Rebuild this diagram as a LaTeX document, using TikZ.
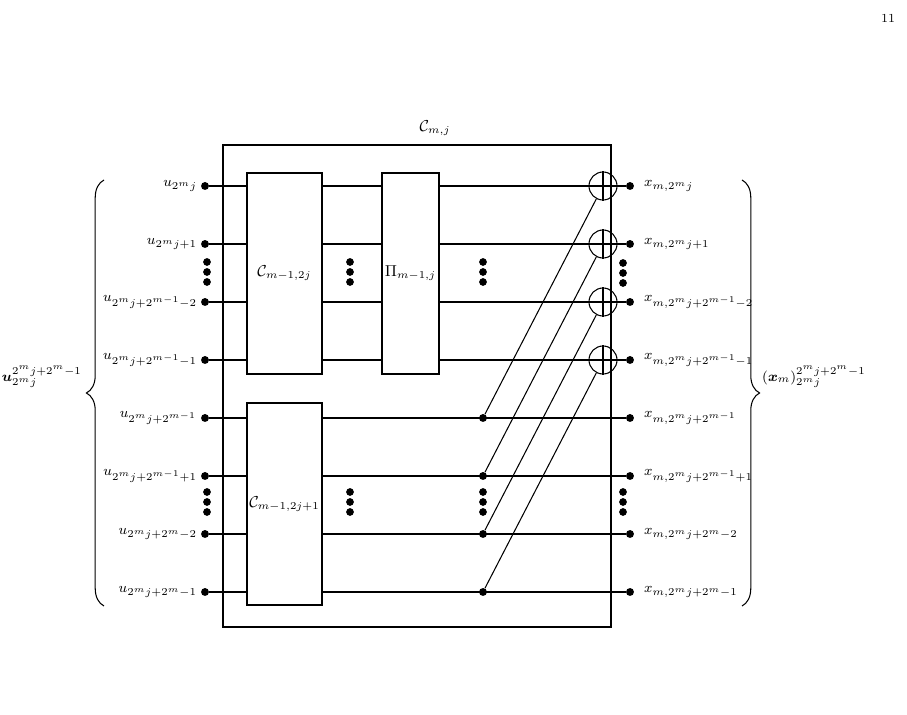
\documentclass[tikz,border=0pt]{standalone}
\usepackage{amsmath}
\usepackage{bm}
\usetikzlibrary{decorations.pathreplacing}
\newcommand{\sig}[2]{$#1_{#2}$}
\begin{document}
\begin{tikzpicture}[x=0.02cm, y=-0.02cm, every node/.style={font=\footnotesize},
    dot/.style={circle, fill=black, inner sep=0pt, minimum size=4.5pt},
    blk/.style={draw, semithick, inner sep=0pt},
    xorgate/.style={draw, semithick, circle, minimum size=0.56cm, inner sep=0pt},
    wire/.style={semithick},
    ilbl/.style={anchor=east, inner sep=1pt}]
    \useasboundingbox (0,0) rectangle (907,715);
    \node[font=\scriptsize] at (888,18) {11};
    % outer box
    \draw[semithick] (223,145) rectangle (611,627);
    \node[font=\small] at (435,128) {$\mathcal{C}_{m,j}$};
    % blocks
    \node[blk, minimum width=1.5cm, minimum height=4.02cm] (ca) at (284.5,273.5) {\small$\mathcal{C}_{m-1,2j}$};
    \node[blk, minimum width=1.5cm, minimum height=4.04cm] (cb) at (284.5,504) {\small$\mathcal{C}_{m-1,2j+1}$};
    \node[blk, minimum width=1.14cm, minimum height=4.02cm] (pi) at (410.5,273.5) {\small$\Pi_{m-1,j}$};
    % rows
    \foreach \i/\y in {1/186,2/244,3/302,4/360,5/418,6/476,7/534,8/592} {
        \node[dot] (in\i) at (205,\y) {};
        \node[dot] (out\i) at (630,\y) {};
    }
    \foreach \i in {1,...,4} {
        \node[xorgate] (a\i) at (603,{128+58*\i}) {};
        \node[dot] (j\i) at (483,{360+58*\i}) {};
        \draw[wire] (in\i) -- (in\i -| ca.west);
        \draw[wire] (in\i -| ca.east) -- (in\i -| pi.west);
        \draw[wire] (in\i -| pi.east) -- (out\i);
        \draw[wire] (a\i.north) -- (a\i.south);
    }
    \foreach \i in {5,...,8} {
        \draw[wire] (in\i) -- (in\i -| cb.west);
        \draw[wire] (in\i -| cb.east) -- (out\i);
    }
    \foreach \i in {1,...,4}
        \draw[wire] (j\i) -- (a\i);
    % vertical dots
    \foreach \x/\y in {207/262,350/262,483/262,623/263,207/492,350/492,483/492,623/492}
        \foreach \d in {0,10,20}
            \fill (\x,\y+\d) circle (2.2pt);
    % input labels
    \node[ilbl] at (199,186) {\sig{u}{2^m j}};
    \node[ilbl] at (199,244) {\sig{u}{2^m j+1}};
    \node[ilbl] at (199,302) {\sig{u}{2^m j+2^{m-1}-2}};
    \node[ilbl] at (199,360) {\sig{u}{2^m j+2^{m-1}-1}};
    \node[ilbl] at (199,418) {\sig{u}{2^m j+2^{m-1}}};
    \node[ilbl] at (199,476) {\sig{u}{2^m j+2^{m-1}+1}};
    \node[ilbl] at (199,534) {\sig{u}{2^m j+2^{m}-2}};
    \node[ilbl] at (199,592) {\sig{u}{2^m j+2^{m}-1}};
    % output labels
    \node[anchor=west] at (638,186) {\sig{x}{m,2^m j}};
    \node[anchor=west] at (638,244) {\sig{x}{m,2^m j+1}};
    \node[anchor=west] at (638,302) {\sig{x}{m,2^m j+2^{m-1}-2}};
    \node[anchor=west] at (638,360) {\sig{x}{m,2^m j+2^{m-1}-1}};
    \node[anchor=west] at (638,418) {\sig{x}{m,2^m j+2^{m-1}}};
    \node[anchor=west] at (638,476) {\sig{x}{m,2^m j+2^{m-1}+1}};
    \node[anchor=west] at (638,534) {\sig{x}{m,2^m j+2^{m}-2}};
    \node[anchor=west] at (638,592) {\sig{x}{m,2^m j+2^{m}-1}};
    % braces
    \draw[semithick, decorate, decoration={brace, amplitude=10pt}] (104,606) -- (104,180);
    \draw[semithick, decorate, decoration={brace, amplitude=10pt}] (742,180) -- (742,606);
    \node[anchor=east] at (88,377) {$\bm{u}_{2^m j}^{2^m j+2^m-1}$};
    \node[anchor=west] at (756,377) {$(\bm{x}_m)_{2^m j}^{2^m j+2^m-1}$};
\end{tikzpicture}
\end{document}
